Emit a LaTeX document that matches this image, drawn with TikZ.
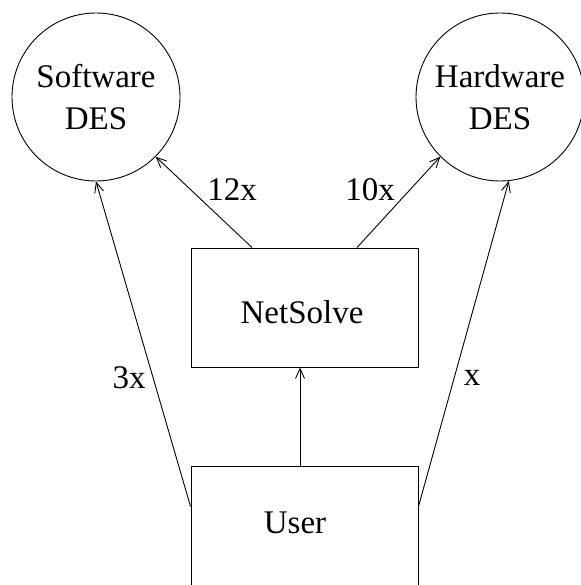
\documentclass[tikz,border=0pt]{standalone}
\usepackage{fontspec}
\setmainfont{Liberation Serif}
\usetikzlibrary{arrows.meta}
\begin{document}
\begin{tikzpicture}[x=1pt,y=-1pt,
  every node/.style={font=\fontsize{33}{42}\selectfont},
  des/.style={draw,line width=0.9pt,circle,minimum size=168pt,inner sep=0pt,align=center},
  box/.style={draw,line width=0.9pt,rectangle,inner sep=0pt},
  lbl/.style={inner sep=0pt},
  conn/.style={line width=0.9pt,-{Straight Barb[length=10pt,width=9pt,line width=0.9pt]}}]
\useasboundingbox (0,0) rectangle (580,585);
\node[des] (Soft) at (96,97) {Software\\DES};
\node[des] (Hard) at (500,97) {Hardware\\DES};
\node[box,minimum width=227pt,minimum height=119pt] (Net) at (304.5,307.5) {};
\node[lbl] at (302,312) {NetSolve};
\node[box,minimum width=227pt,minimum height=160pt] (User) at (304.5,546) {};
\node[lbl] at (295,523) {User};
\draw[conn] (User.north -| 300,0) -- (Net.south -| 300,0);
\draw[conn] ([yshift=-41pt]User.north west) -- (Soft.south);
\draw[conn] ([yshift=-41pt]User.north east) -- (Hard.-84);
\draw[conn] (Net.north -| 252,0) -- (Soft.-45);
\draw[conn] (Net.north -| 357,0) -- (Hard.-135);
\node[lbl] (l12) at (232,190) {12x};
\node[lbl] (l10) at (370,190) {10x};
\node[lbl] (l3) at (129,378) {3x};
\node[lbl] (l1) at (472,378) {x};
\end{tikzpicture}
\end{document}
